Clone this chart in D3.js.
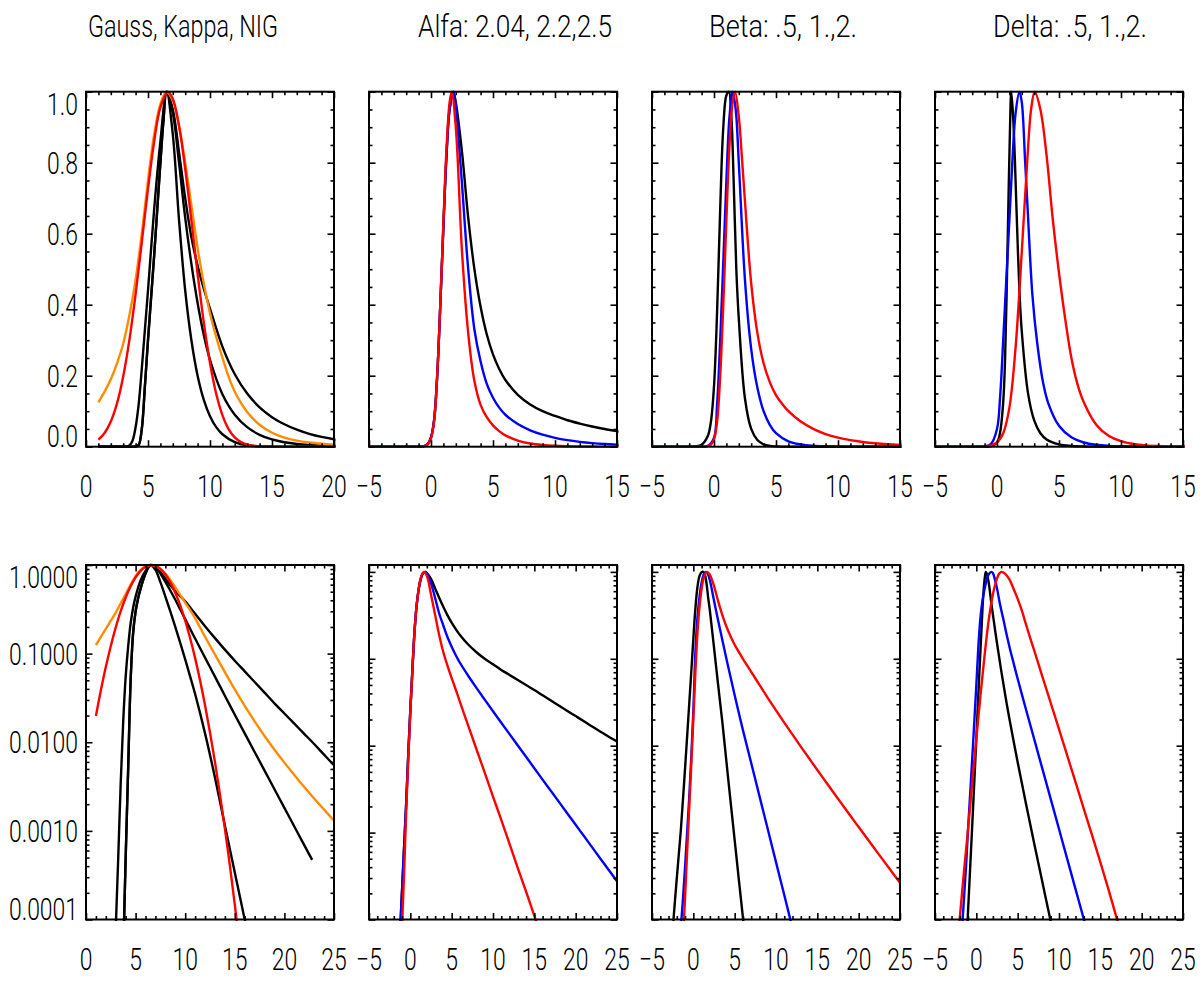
<!DOCTYPE html>
<html>
<head>
<meta charset="utf-8">
<script src="https://cdn.jsdelivr.net/npm/d3@7"></script>
<style>
  body { margin: 0; background: #fff; }
  svg text { font-family: Roboto, "Liberation Sans", sans-serif; font-weight: 300; fill: #000; }
</style>
</head>
<body>
<svg id="chart" width="1200" height="997"></svg>
<script>

// titles over the four columns
var titles = ["Gauss, Kappa, NIG", "Alfa: 2.04, 2.2,2.5", "Beta: .5, 1.,2.", "Delta: .5, 1.,2."];

// x ranges (top row linear plots, bottom row log plots)
var topXDomains = [[0, 20], [-5, 15], [-5, 15], [-5, 15]];
var botXDomains = [[0, 25], [-5, 25], [-5, 25], [-5, 25]];
var linYTicks = [0, 0.2, 0.4, 0.6, 0.8, 1.0];
var logYTicks = [0.0001, 0.001, 0.01, 0.1, 1];
var logYMax = [1, 1.2, 1.2, 1.2];

// column 1: NIG (black), Kappa (orange), Gauss (red)
var p1BlackA = [[1,1e-8],[2,1e-7],[2.5,3e-6],[2.8,2.5e-5],[3.03,1e-4],[3.25,5e-4],[3.5,0.0035],[3.75,0.017],[4,0.055],[4.25,0.12],[4.5,0.22],[4.75,0.33],[5,0.44],[5.5,0.67],[6,0.86],[6.5,1.0],[7,0.88],[7.5,0.64],[8,0.44],[8.5,0.3],[9,0.2],[9.5,0.132],[10,0.086],[10.5,0.055],[11,0.035],[12,0.0126],[13,0.004],[14,0.00115],[15,0.00034],[16,0.0001],[17,3e-5],[18,9e-6],[20,8e-7],[25,1e-8]];
var p1BlackB = [[1,1e-8],[2,1e-8],[3,1e-7],[3.5,4e-6],[3.7,3e-5],[3.84,1e-4],[4,5e-4],[4.25,0.005],[4.5,0.05],[4.75,0.17],[5,0.3],[5.25,0.42],[5.5,0.54],[5.75,0.67],[6,0.8],[6.25,0.92],[6.5,1.0],[7,0.94],[7.5,0.8],[8,0.645],[8.5,0.515],[9,0.405],[9.5,0.315],[10,0.245],[11,0.148],[12,0.0902],[13,0.055],[14,0.0335],[15,0.0204],[16,0.0126],[17,0.00776],[18,0.00479],[19,0.00295],[20,0.00182],[21,0.00112],[22,0.00069],[22.8,0.00047]];
var p1BlackC = [[1,1e-8],[2,1e-8],[3,1e-7],[3.5,4e-6],[3.7,3e-5],[3.84,1e-4],[4,5e-4],[4.25,0.005],[4.5,0.05],[4.75,0.17],[5,0.3],[5.25,0.42],[5.5,0.54],[5.75,0.67],[6,0.8],[6.25,0.92],[6.5,1.0],[7,0.95],[7.5,0.83],[8,0.7],[8.5,0.59],[9,0.51],[9.5,0.445],[10,0.389],[11,0.282],[12,0.204],[13,0.1496],[14,0.1109],[15,0.0832],[16,0.0631],[17,0.0479],[18,0.0363],[19,0.0275],[20,0.0211],[21,0.0162],[22,0.01245],[23,0.00955],[24,0.00724],[25,0.0055]];
var p1Orange = [[1,0.125],[1.5,0.155],[2,0.19],[2.5,0.235],[3,0.29],[3.5,0.37],[4,0.47],[4.5,0.6],[5,0.75],[5.5,0.88],[6,0.965],[6.5,1.0],[7,0.975],[7.5,0.905],[8,0.8],[8.5,0.68],[9,0.56],[9.5,0.46],[10,0.376],[10.5,0.309],[11,0.251],[11.5,0.197],[12,0.155],[13,0.0977],[14,0.0617],[15,0.0394],[16,0.0257],[17,0.0172],[18,0.01175],[19,0.00822],[20,0.00589],[21,0.00427],[22,0.00313],[23,0.00232],[24,0.00174],[25,0.0013]];
var p1Red = [[1,0.0198],[1.5,0.0387],[2,0.071],[2.5,0.122],[3,0.198],[3.5,0.301],[4,0.43],[4.5,0.576],[5,0.726],[5.5,0.86],[6,0.956],[6.6,1.0],[7,0.98],[7.5,0.904],[8,0.783],[8.5,0.637],[9,0.487],[9.5,0.35],[10,0.236],[10.5,0.149],[11,0.089],[11.5,0.0497],[12,0.0261],[12.5,0.0129],[13,0.006],[13.5,0.0026],[14,0.00106],[14.5,0.00041],[15,0.000147],[15.5,0.00005],[16,0.000016],[17,1.4e-6],[20,1e-8],[25,1e-8]];

// column 2: alfa
var p2Black = [[-5,1e-8],[-3,1e-7],[-2,2e-6],[-1.5,1.5e-5],[-1.17,1e-4],[-1,2.2e-4],[-0.75,7e-4],[-0.5,0.0022],[-0.25,0.008],[0,0.026],[0.25,0.075],[0.5,0.2],[0.75,0.4],[1,0.62],[1.25,0.82],[1.5,0.95],[1.8,1.0],[2,0.97],[2.5,0.83],[3,0.645],[3.5,0.5],[4,0.394],[4.5,0.316],[5,0.26],[5.5,0.219],[6,0.188],[7,0.146],[8,0.119],[9,0.1],[10,0.0865],[11,0.0745],[12,0.0652],[13,0.057],[14,0.0499],[15,0.0437],[16,0.038],[17,0.0331],[18,0.0288],[19,0.0251],[20,0.0219],[21,0.0191],[22,0.0166],[23,0.0145],[24,0.0127],[25,0.0112]];
var p2Blue = [[-5,1e-8],[-3,1e-7],[-2,2e-6],[-1.5,1.5e-5],[-1.17,1e-4],[-1,2.2e-4],[-0.75,7e-4],[-0.5,0.0022],[-0.25,0.008],[0,0.026],[0.25,0.075],[0.5,0.2],[0.75,0.4],[1,0.62],[1.25,0.82],[1.5,0.95],[1.8,1.0],[2,0.96],[2.2,0.88],[2.5,0.74],[3,0.5],[3.5,0.33],[4,0.24],[4.5,0.177],[5,0.138],[5.5,0.11],[6,0.09],[7,0.0638],[8,0.0462],[9,0.0339],[10,0.02495],[11,0.0184],[12,0.0136],[13,0.01007],[14,0.00745],[15,0.00551],[16,0.00407],[17,0.00302],[18,0.00224],[19,0.00166],[20,0.00123],[21,0.000912],[22,0.000676],[23,0.000501],[24,0.000372],[25,0.000275]];
var p2Red = [[-5,1e-8],[-3,1e-7],[-2,1e-6],[-1.5,8e-6],[-1.2,3.5e-5],[-0.97,1e-4],[-0.75,3.5e-4],[-0.5,0.0018],[-0.25,0.007],[0,0.024],[0.25,0.072],[0.5,0.2],[0.75,0.4],[1,0.63],[1.25,0.84],[1.5,0.97],[1.67,1.0],[2,0.9],[2.5,0.55],[3,0.32],[3.5,0.185],[4,0.118],[4.5,0.083],[5,0.06],[5.5,0.044],[6,0.032],[7,0.017],[8,0.0091],[9,0.0049],[10,0.0026],[11,0.0014],[12,0.00074],[13,0.00039],[14,0.00021],[15,0.00011],[16,5.8e-5],[18,1.6e-5],[20,4e-6],[25,1e-7]];

// column 3: beta
var p3Black = [[-5,1e-8],[-4,1e-7],[-3,1.8e-5],[-2.4,1e-4],[-2,3e-4],[-1.5,0.0011],[-1,0.0055],[-0.5,0.03],[-0.25,0.07],[0,0.17],[0.25,0.38],[0.5,0.67],[0.75,0.9],[1,0.99],[1.2,1.0],[1.4,0.93],[1.6,0.73],[1.8,0.5],[2,0.36],[2.5,0.135],[3,0.05],[3.5,0.019],[4,0.0066],[4.5,0.0023],[5,0.00082],[5.5,0.00029],[6,0.000105],[6.5,3.6e-5],[7,1.2e-5],[10,1e-7],[25,1e-8]];
var p3Blue = [[-5,1e-8],[-4,1e-7],[-3,5e-6],[-2,2.5e-5],[-1.44,1e-4],[-1,4e-4],[-0.5,0.0025],[0,0.025],[0.25,0.12],[0.5,0.3],[0.75,0.52],[1,0.75],[1.25,0.93],[1.5,1.0],[1.75,0.95],[2,0.8],[2.5,0.468],[3,0.275],[3.5,0.166],[4,0.1],[4.5,0.0617],[5,0.038],[6,0.0151],[7,0.00631],[8,0.00263],[9,0.0011],[10,0.000457],[11,0.000191],[12,7.9e-5],[13,3.3e-5],[15,5e-6],[25,1e-8]];
var p3Red = [[-5,1e-8],[-4,1e-7],[-2,1e-6],[-1.5,2.2e-5],[-1.13,1e-4],[-0.75,6e-4],[-0.5,0.0019],[-0.25,0.006],[0,0.02],[0.25,0.07],[0.5,0.2],[0.75,0.4],[1,0.64],[1.25,0.85],[1.5,0.97],[1.7,1.0],[2,0.93],[2.26,0.81],[2.5,0.69],[3,0.46],[3.5,0.32],[4,0.235],[4.5,0.182],[5,0.145],[5.5,0.12],[6,0.1],[7,0.0708],[8,0.0501],[9,0.0355],[10,0.0255],[11,0.0184],[12,0.0134],[13,0.00977],[14,0.00716],[15,0.00525],[16,0.00387],[17,0.00286],[18,0.00211],[19,0.00156],[20,0.00116],[21,0.000861],[22,0.00064],[23,0.000476],[24,0.000355],[25,0.000265]];

// column 4: delta
var p4Black = [[-5,1e-8],[-3,1e-7],[-2,1e-6],[-1.5,1.3e-5],[-1.05,1e-4],[-0.5,0.0012],[0,0.012],[0.25,0.04],[0.5,0.125],[0.65,0.245],[0.8,0.47],[0.95,0.74],[1.05,0.9],[1.15,1.0],[1.3,0.93],[1.44,0.81],[1.6,0.64],[1.82,0.43],[2,0.324],[2.5,0.151],[3,0.0741],[3.5,0.038],[4,0.0204],[5,0.00646],[6,0.00216],[7,0.00075],[8,0.000266],[9,9.5e-5],[10,3.5e-5],[12,5e-6],[15,2e-7],[25,1e-8]];
var p4Blue = [[-5,1e-8],[-3,1e-7],[-2.5,5e-6],[-2,3e-5],[-1.66,1e-4],[-1.25,4e-4],[-1,0.0011],[-0.5,0.007],[0,0.05],[0.25,0.14],[0.5,0.3],[0.75,0.47],[1,0.64],[1.25,0.81],[1.5,0.94],[1.81,1.0],[2,0.97],[2.26,0.81],[2.5,0.65],[2.85,0.43],[3.25,0.29],[3.73,0.178],[4.13,0.123],[5,0.0589],[6,0.0263],[7,0.0119],[8,0.00537],[9,0.00243],[10,0.0011],[11,0.000495],[12,0.000224],[13,0.000101],[14,4.6e-5],[15,2.1e-5],[17,4e-6],[25,1e-8]];
var p4Red = [[-5,1e-8],[-4,1e-6],[-3,1e-5],[-2.5,3.3e-5],[-2.02,1e-4],[-1.5,3.5e-4],[-1,0.0011],[-0.5,0.0037],[0,0.012],[0.5,0.038],[1,0.11],[1.5,0.28],[2,0.55],[2.5,0.84],[2.75,0.95],[3.04,1.0],[3.5,0.95],[4,0.82],[4.5,0.64],[5,0.49],[5.5,0.36],[6,0.25],[6.5,0.175],[7,0.125],[8,0.062],[9,0.031],[10,0.0155],[11,0.00767],[12,0.0038],[13,0.00188],[14,0.000933],[15,0.000457],[16,0.000219],[17,0.000102],[18,4.7e-5],[20,8e-6],[25,1e-8]];

var black = "#000000", orange = "#ff8c00", red = "#ff0000", blue = "#0000ff";
var columns = [
  { lines: [p1BlackA, p1BlackB, p1BlackC, p1Orange, p1Red], colors: [black, black, black, orange, red] },
  { lines: [p2Black, p2Blue, p2Red], colors: [black, blue, red] },
  { lines: [p3Black, p3Blue, p3Red], colors: [black, blue, red] },
  { lines: [p4Black, p4Blue, p4Red], colors: [black, blue, red] }
];

// layout of the 2x4 grid
var panelLeft = [86, 369, 652, 935], panelW = 248;
var rowTop = [91.7, 565], rowBottom = [446.7, 919.5];
var titleX = [88, 418, 709, 993], titleW = [190, 194, 148, 154];
var textScale = 0.74, fontSize = 31;

var svg = d3.select("#chart");

function label(g, x, y, txt, anchor) {
  g.append("text")
    .attr("transform", "translate(" + x + "," + y + ") scale(" + textScale + ",1)")
    .attr("text-anchor", anchor)
    .style("font-size", fontSize + "px")
    .text(txt);
}

function isDecade(v) {
  var l = Math.log10(v);
  return Math.abs(l - Math.round(l)) < 1e-6;
}

function drawPanel(row, col) {
  var left = panelLeft[col], right = left + panelW;
  var top = rowTop[row], bottom = rowBottom[row];
  var xd = row == 0 ? topXDomains[col] : botXDomains[col];

  var x = d3.scaleLinear().domain(xd).range([left, right]);
  var y;
  if (row == 0) y = d3.scaleLinear().domain([0, 1]).range([bottom, top]);
  else y = d3.scaleLog().domain([1e-4, logYMax[col]]).range([bottom, top]);

  var g = svg.append("g");
  var clipId = "clip" + row + col;
  g.append("clipPath").attr("id", clipId)
    .append("rect")
    .attr("x", left - 1.5).attr("y", top - 1.5)
    .attr("width", panelW + 3).attr("height", bottom - top + 3);

  var line = d3.line()
    .x(function(d) { return x(d[0]); })
    .y(function(d) { return y(d[1]); })
    .curve(d3.curveCatmullRom.alpha(0.5));

  var curves = g.append("g").attr("clip-path", "url(#" + clipId + ")");
  columns[col].lines.forEach(function(data, i) {
    curves.append("path")
      .datum(data)
      .attr("d", line)
      .attr("fill", "none")
      .attr("stroke", columns[col].colors[i])
      .attr("stroke-width", 2.4)
      .attr("stroke-linejoin", "round");
  });

  // ticks point inward on all four sides
  var xMajor = d3.range(xd[0], xd[1] + 0.01, 5);
  var xMinor = d3.range(xd[0], xd[1] + 0.01, 1).filter(function(v) { return v % 5 != 0; });
  var yMajor, yMinor;
  if (row == 0) {
    yMajor = linYTicks;
    yMinor = d3.range(0, 21).map(function(i) { return i / 20; }).filter(function(v) { return Math.round(v * 20) % 4 != 0; });
  } else {
    yMajor = logYTicks;
    yMinor = y.ticks().filter(function(v) { return !isDecade(v); });
  }

  var axes = [
    [d3.axisBottom, x, "translate(0," + bottom + ")"],
    [d3.axisTop, x, "translate(0," + top + ")"],
    [d3.axisLeft, y, "translate(" + left + ",0)"],
    [d3.axisRight, y, "translate(" + right + ",0)"]
  ];
  axes.forEach(function(a, i) {
    var isX = i < 2;
    [[isX ? xMajor : yMajor, -6.5], [isX ? xMinor : yMinor, -3.5]].forEach(function(t) {
      var ax = g.append("g").attr("transform", a[2])
        .call(a[0](a[1]).tickValues(t[0]).tickSize(t[1]).tickFormat(""));
      ax.select(".domain").remove();
      ax.selectAll("line").attr("stroke", "#000").attr("stroke-width", 1.6);
    });
  });

  g.append("rect")
    .attr("x", left).attr("y", top)
    .attr("width", panelW).attr("height", bottom - top)
    .attr("fill", "none").attr("stroke", "#000").attr("stroke-width", 2);

  // x labels
  var fx = d3.format("d");
  xMajor.forEach(function(v) {
    label(g, x(v), bottom + 50, fx(v), "middle");
  });

  // y labels only on the first column
  if (col == 0) {
    var fy = row == 0 ? d3.format(".1f") : d3.format(".4f");
    yMajor.forEach(function(v) {
      var c = Math.max(top + 12, Math.min(bottom - 10.5, y(v)));
      label(g, 78, c + 11, fy(v), "end");
    });
  }
}

for (var c = 0; c < 4; c++) {
  svg.append("text")
    .attr("x", titleX[c]).attr("y", 37)
    .attr("textLength", titleW[c])
    .attr("lengthAdjust", "spacingAndGlyphs")
    .style("font-size", fontSize + "px")
    .text(titles[c]);
  drawPanel(0, c);
  drawPanel(1, c);
}
</script>
</body>
</html>
